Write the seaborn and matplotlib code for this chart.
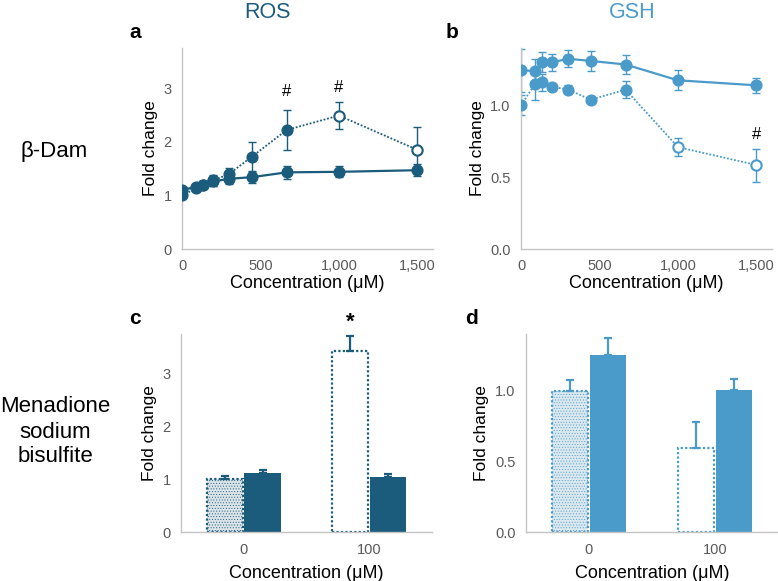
import numpy as np
import pandas as pd
import matplotlib
matplotlib.use("Agg")
import matplotlib.pyplot as plt
import seaborn as sns
from matplotlib.ticker import MultipleLocator, FuncFormatter

# concentrations (uM) for the dose-response panels
conc = [0, 88.9, 133.3, 200, 300, 444.4, 666.7, 1000, 1500]

# ROS (panel a)
ros_solid = [1.11, 1.15, 1.19, 1.26, 1.31, 1.34, 1.43, 1.44, 1.47]
ros_solid_err = [0.05, 0.06, 0.07, 0.08, 0.10, 0.10, 0.12, 0.10, 0.11]
ros_dot = [1.00, 1.13, 1.20, 1.28, 1.40, 1.72, 2.22, 2.49, 1.85]
ros_dot_err = [0.04, 0.05, 0.06, 0.10, 0.12, 0.27, 0.37, 0.25, 0.42]
ros_open = [False, False, False, False, False, False, False, True, True]

# GSH (panel b)
gsh_solid = [1.245, 1.24, 1.30, 1.30, 1.325, 1.31, 1.285, 1.175, 1.14]
gsh_solid_err = [0.15, 0.08, 0.07, 0.06, 0.06, 0.07, 0.065, 0.07, 0.05]
gsh_dot = [1.00, 1.15, 1.16, 1.13, 1.11, 1.04, 1.11, 0.71, 0.585]
gsh_dot_err = [0.07, 0.11, 0.06, 0.02, 0.03, 0.02, 0.06, 0.065, 0.115]
gsh_open = [False, False, False, False, False, False, False, True, True]

# menadione bars (panels c, d)
bar_conc = ["0", "100"]
ros_bar_dot = [1.00, 3.42]
ros_bar_dot_err = [0.06, 0.29]
ros_bar_solid = [1.12, 1.05]
ros_bar_solid_err = [0.05, 0.05]
gsh_bar_dot = [1.00, 0.595]
gsh_bar_dot_err = [0.075, 0.18]
gsh_bar_solid = [1.25, 1.005]
gsh_bar_solid_err = [0.12, 0.075]

DARK = "#1b5b7b"
LIGHT = "#4a9bca"
GRAY = "#595959"
SPINE = "#c4c4c4"

sns.set_style("white")
plt.rcParams["font.family"] = ["Liberation Sans", "DejaVu Sans"]
plt.rcParams["text.color"] = "black"
plt.rcParams["axes.labelcolor"] = "black"
plt.rcParams["hatch.linewidth"] = 0.35

fig = plt.figure(figsize=(7.78, 5.81), dpi=100)
ax_a = fig.add_axes([0.234, 0.5714, 0.3226, 0.346])
ax_b = fig.add_axes([0.6697, 0.5714, 0.3226, 0.346])
ax_c = fig.add_axes([0.2326, 0.0843, 0.3226, 0.3408])
ax_d = fig.add_axes([0.676, 0.0843, 0.324, 0.3408])


def style_axes(ax, xpad):
    sns.despine(ax=ax)
    for s in ["left", "bottom"]:
        ax.spines[s].set_color(SPINE)
        ax.spines[s].set_linewidth(1.0)
    ax.tick_params(which="both", direction="out", color=SPINE, labelcolor=GRAY,
                   labelsize=10.5)
    ax.tick_params(which="major", length=4, width=0.8)
    ax.tick_params(which="minor", length=3, width=0.8)
    ax.set_ylabel("Fold change", fontsize=12.5, labelpad=4)
    ax.set_xlabel("Concentration (\u03bcM)", fontsize=13, labelpad=xpad)


def dose_panel(ax, y_solid, e_solid, y_dot, e_dot, is_open, color):
    df = pd.DataFrame({"conc": conc, "solid": y_solid, "dot": y_dot, "open": is_open})
    sns.lineplot(data=df, x="conc", y="solid", ax=ax, color=color, lw=1.6, zorder=2)
    sns.lineplot(data=df, x="conc", y="dot", ax=ax, color=color, lw=1.3,
                 linestyle=(0, (1, 1)), zorder=2)
    ax.errorbar(conc, y_solid, yerr=e_solid, fmt="none", ecolor=color, elinewidth=1,
                capsize=3, capthick=1, zorder=1)
    ax.errorbar(conc, y_dot, yerr=e_dot, fmt="none", ecolor=color, elinewidth=1,
                capsize=3, capthick=1, zorder=1)
    sns.scatterplot(data=df, x="conc", y="solid", ax=ax, color=color, s=60,
                    edgecolor=color, linewidth=1, zorder=3)
    filled = df[~df["open"]]
    hollow = df[df["open"]]
    sns.scatterplot(data=filled, x="conc", y="dot", ax=ax, color=color, s=60,
                    edgecolor=color, linewidth=1, zorder=3)
    sns.scatterplot(data=hollow, x="conc", y="dot", ax=ax, color="white", s=55,
                    edgecolor=color, linewidth=1.5, zorder=3)
    ax.set_xlim(0, 1600)
    ax.xaxis.set_major_locator(MultipleLocator(500))
    ax.xaxis.set_minor_locator(MultipleLocator(250))
    ax.xaxis.set_major_formatter(FuncFormatter(lambda v, p: f"{int(v):,}"))
    style_axes(ax, xpad=1)


def bar_panel(ax, y_dot, e_dot, y_solid, e_solid, color, tint):
    df = pd.DataFrame({
        "conc": bar_conc * 2,
        "val": list(y_dot) + list(y_solid),
        "grp": ["dot"] * 2 + ["solid"] * 2,
    })
    sns.barplot(data=df, x="conc", y="val", hue="grp", ax=ax, errorbar=None,
                width=0.6, gap=0.04, palette={"dot": "white", "solid": color},
                legend=False, saturation=1)
    patches = [p for p in ax.patches if p.get_width() > 0]
    dot_bars = patches[:2]
    solid_bars = patches[2:4]
    for i, p in enumerate(dot_bars):
        p.set_edgecolor(color)
        p.set_linestyle((0, (1, 1)))
        p.set_linewidth(1.6)
        if i == 0:
            p.set_facecolor(tint)
            p.set_hatch("......")
    for p in solid_bars:
        p.set_edgecolor(color)
        p.set_linewidth(0)
    for bars, ys, es in [(dot_bars, y_dot, e_dot), (solid_bars, y_solid, e_solid)]:
        xs = [p.get_x() + p.get_width() / 2 for p in bars]
        ax.errorbar(xs, ys, yerr=[[0] * len(es), es], fmt="none", ecolor=color,
                    elinewidth=1.6, capsize=3, capthick=1.6, zorder=1)
    ax.set_xlim(-0.5, 1.5)
    style_axes(ax, xpad=6)
    ax.tick_params(axis="x", which="both", length=0, pad=8)


dose_panel(ax_a, ros_solid, ros_solid_err, ros_dot, ros_dot_err, ros_open, DARK)
ax_a.set_ylim(0, 3.75)
ax_a.yaxis.set_major_locator(MultipleLocator(1))
ax_a.yaxis.set_minor_locator(MultipleLocator(0.5))
ax_a.text(conc[6], 2.93, "#", ha="center", va="center", fontsize=12)
ax_a.text(conc[7], 3.02, "#", ha="center", va="center", fontsize=12)

dose_panel(ax_b, gsh_solid, gsh_solid_err, gsh_dot, gsh_dot_err, gsh_open, LIGHT)
ax_b.set_ylim(0, 1.4)
ax_b.yaxis.set_major_locator(MultipleLocator(0.5))
ax_b.yaxis.set_minor_locator(MultipleLocator(0.1))
ax_b.yaxis.set_major_formatter(FuncFormatter(lambda v, p: f"{v:.1f}"))
ax_b.text(conc[8], 0.80, "#", ha="center", va="center", fontsize=12)

bar_panel(ax_c, ros_bar_dot, ros_bar_dot_err, ros_bar_solid, ros_bar_solid_err, DARK, "#d9e3e8")
ax_c.set_ylim(0, 3.75)
ax_c.yaxis.set_major_locator(MultipleLocator(1))
ax_c.yaxis.set_minor_locator(MultipleLocator(0.5))
star_x = ax_c.patches[1].get_x() + ax_c.patches[1].get_width() / 2
ax_c.text(star_x, 3.98, "*", ha="center", va="center", fontsize=16,
          fontweight="bold", clip_on=False)

bar_panel(ax_d, gsh_bar_dot, gsh_bar_dot_err, gsh_bar_solid, gsh_bar_solid_err, LIGHT, "#dbe8f0")
ax_d.set_ylim(0, 1.4)
ax_d.yaxis.set_major_locator(MultipleLocator(0.5))
ax_d.yaxis.set_minor_locator(MultipleLocator(0.1))
ax_d.yaxis.set_major_formatter(FuncFormatter(lambda v, p: f"{v:.1f}"))

# column titles, row labels, panel letters
fig.text(268 / 778, 1 - 13 / 581, "ROS", color=DARK, fontsize=15.5, ha="center", va="center")
fig.text(632 / 778, 1 - 13 / 581, "GSH", color=LIGHT, fontsize=15.5, ha="center", va="center")
fig.text(54 / 778, 1 - 152 / 581, "\u03b2-Dam", fontsize=16, ha="center", va="center")
fig.text(55 / 778, 1 - 432 / 581, "Menadione\nsodium\nbisulfite", fontsize=16,
         ha="center", va="center", linespacing=1.25)
for letter, x, y in [("a", 135, 32), ("b", 452, 32), ("c", 135, 318), ("d", 472, 318)]:
    fig.text(x / 778, 1 - y / 581, letter, fontsize=15, fontweight="bold",
             ha="center", va="center")

fig.savefig("out.png", dpi=100)
